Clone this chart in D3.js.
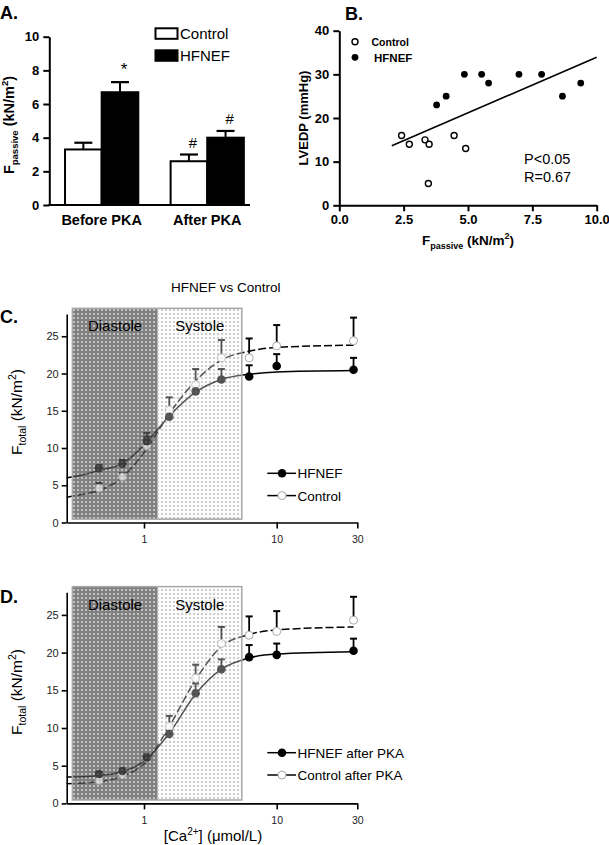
<!DOCTYPE html>
<html><head><meta charset="utf-8">
<script src="https://cdn.jsdelivr.net/npm/d3@7"></script>
<style>
html,body{margin:0;padding:0;background:#fff;}
svg{display:block;font-family:"Liberation Sans",Arial,Helvetica,sans-serif;}
</style></head><body>
<svg id="chart" width="609" height="845"></svg>
<script>
// ---------- Panel A data ----------
const groupsA = ["Before PKA", "After PKA"];
const seriesA = ["Control", "HFNEF"];
const controlA = [3.3, 2.6];
const controlAErr = [0.4, 0.4];
const hfnefA = [6.7, 4.0];
const hfnefAErr = [0.6, 0.4];
const marksA = [
  {g: "Before PKA", s: "HFNEF", t: "*"},
  {g: "After PKA", s: "Control", t: "#"},
  {g: "After PKA", s: "HFNEF", t: "#"}
];
const ticksA = [0, 2, 4, 6, 8, 10];

// ---------- Panel B data ----------
const controlBx = [2.42, 2.72, 3.33, 3.49, 4.46, 4.91, 3.46];
const controlBy = [16, 14, 15, 14, 16, 13, 5];
const hfnefBx = [3.78, 4.15, 4.86, 5.53, 5.8, 6.98, 7.86, 8.67, 9.38];
const hfnefBy = [23, 25, 30, 30, 28, 30, 30, 25, 28];
const fitBx = [2.04, 10.0];
const fitBy = [13.65, 33.9];
const ticksBx = [0, 2.5, 5, 7.5, 10];
const ticksBy = [0, 10, 20, 30, 40];
const statsB = ["P<0.05", "R=0.67"];

// ---------- Panels C & D data ----------
const caConc = [0.46, 0.69, 1.05, 1.55, 2.45, 3.83, 6.2, 10, 28.5];
const hfnefC = [7.3, 7.9, 10.9, 14.2, 17.6, 19.2, 19.6, 21.0, 20.5];
const hfnefCErr = [0.4, 0.5, 1.1, 0.8, 0.9, 1.4, 1.5, 1.6, 1.6];
const controlC = [4.6, 6.1, 10.3, 15.1, 18.5, 22.1, 22.1, 23.7, 24.4];
const controlCErr = [0.7, 0.5, 1.2, 1.7, 2.1, 2.4, 2.6, 2.8, 3.1];
const curveX = [0.263, 0.35, 0.46, 0.69, 1.05, 1.55, 2.45, 3.83, 6.2, 10, 28.5];
const hfnefCFit = [6.0, 6.4, 7.0, 7.9, 10.8, 14.3, 17.5, 19.2, 19.9, 20.2, 20.4];
const controlCFit = [3.4, 3.8, 4.3, 6.1, 9.9, 14.6, 19.0, 21.8, 23.0, 23.5, 23.8];
const hfnefD = [3.9, 4.3, 6.1, 9.2, 14.6, 17.8, 19.4, 19.7, 20.25];
const hfnefDErr = [0.3, 0.3, 0.4, 0.5, 1.3, 1.3, 1.6, 1.5, 1.6];
const controlD = [3.0, 3.8, 6.0, 10.2, 16.6, 21.2, 22.3, 22.8, 24.3];
const controlDErr = [0.3, 0.3, 0.4, 1.4, 1.8, 2.2, 2.5, 2.7, 3.1];
const hfnefDFit = [3.5, 3.55, 3.7, 4.2, 5.9, 9.3, 14.5, 17.8, 19.3, 19.8, 20.1];
const controlDFit = [2.6, 2.7, 2.9, 3.6, 5.6, 10.2, 16.4, 20.8, 22.4, 23.0, 23.4];
const ticksCDx = [1, 10, 30];
const ticksCDy = [0, 5, 10, 15, 20, 25];
const phases = ["Diastole", "Systole"];
const phaseEdges = [0.29, 1.27, 5.46];

// =====================================================
const svg = d3.select("#chart");

// patterns for shaded regions
const defs = svg.append("defs");
const pd = defs.append("pattern").attr("id", "patDia").attr("patternUnits", "userSpaceOnUse")
  .attr("width", 4).attr("height", 4);
pd.append("rect").attr("width", 4).attr("height", 4).attr("fill", "#808080");
pd.append("rect").attr("x", 1).attr("y", 1).attr("width", 2).attr("height", 2).attr("fill", "#c2c2c2");
const ps = defs.append("pattern").attr("id", "patSys").attr("patternUnits", "userSpaceOnUse")
  .attr("width", 4).attr("height", 4);
ps.append("rect").attr("width", 4).attr("height", 4).attr("fill", "#fcfcfc");
ps.append("rect").attr("x", 1).attr("y", 1).attr("width", 2).attr("height", 2).attr("fill", "#cdcdcd");

function styleAxis(g, sw, fs, fw, col) {
  g.selectAll(".domain").attr("stroke", "#000").attr("stroke-width", sw);
  g.selectAll(".tick line").attr("stroke", "#000").attr("stroke-width", sw);
  g.selectAll(".tick text").attr("font-size", fs).attr("font-weight", fw)
    .attr("fill", col || "#000").attr("font-family", '"Liberation Sans", Arial, sans-serif');
}

// ---------------- Panel A ----------------
(function () {
  const g = svg.append("g");
  const yA = d3.scaleLinear().domain([0, 10]).range([205, 36.7]);
  const xA = d3.scaleBand().domain(groupsA).range([49.3, 259.6]).paddingInner(0.306).paddingOuter(0.149);
  const xA1 = d3.scaleBand().domain(seriesA).range([0, xA.bandwidth()]);
  const vals = {Control: controlA, HFNEF: hfnefA};
  const errs = {Control: controlAErr, HFNEF: hfnefAErr};
  const bars = [];
  groupsA.forEach((gr, i) => seriesA.forEach(s => bars.push({g: gr, s, v: vals[s][i], e: errs[s][i]})));
  const cx = d => xA(d.g) + xA1(d.s) + xA1.bandwidth() / 2;

  g.selectAll(".eb").data(bars).join("line")
    .attr("x1", cx).attr("x2", cx).attr("y1", d => yA(d.v)).attr("y2", d => yA(d.v + d.e))
    .attr("stroke", "#000").attr("stroke-width", 2);
  g.selectAll(".ec").data(bars).join("line")
    .attr("x1", d => cx(d) - 9).attr("x2", d => cx(d) + 9)
    .attr("y1", d => yA(d.v + d.e)).attr("y2", d => yA(d.v + d.e))
    .attr("stroke", "#000").attr("stroke-width", 2.2);
  g.selectAll(".bar").data(bars).join("rect")
    .attr("x", d => xA(d.g) + xA1(d.s)).attr("width", xA1.bandwidth())
    .attr("y", d => yA(d.v)).attr("height", d => yA(0) - yA(d.v))
    .attr("fill", d => d.s === "HFNEF" ? "#000" : "#fff")
    .attr("stroke", "#000").attr("stroke-width", 2);
  g.selectAll(".mk").data(marksA).join("text")
    .attr("x", d => xA(d.g) + xA1(d.s) + xA1.bandwidth() / 2 + 4)
    .attr("y", d => {
      const i = groupsA.indexOf(d.g);
      return yA(vals[d.s][i] + errs[d.s][i]) - 7;
    })
    .attr("text-anchor", "middle").attr("font-size", d => d.t === "*" ? 17 : 15)
    .text(d => d.t);

  const ay = g.append("g").attr("transform", "translate(49.3,0)")
    .call(d3.axisLeft(yA).tickValues(ticksA).tickSize(6).tickSizeOuter(0).tickPadding(4));
  styleAxis(ay, 2, 13, "bold");
  const ax = g.append("g").attr("transform", "translate(0,205)")
    .call(d3.axisBottom(xA).tickSize(0).tickPadding(10));
  ax.select(".domain").remove();
  styleAxis(ax, 2, 14.5, "bold");
  g.append("line").attr("x1", 48.3).attr("x2", 250).attr("y1", 205).attr("y2", 205)
    .attr("stroke", "#000").attr("stroke-width", 2);

  const yl = g.append("text").attr("transform", "translate(14,125) rotate(-90)")
    .attr("text-anchor", "middle").attr("font-size", 14.5).attr("font-weight", "bold");
  yl.append("tspan").text("F");
  yl.append("tspan").attr("font-size", 9.5).attr("dy", 4).text("passive");
  yl.append("tspan").attr("dy", -4).text(" (kN/m");
  yl.append("tspan").attr("font-size", 9.5).attr("dy", -6).text("2");
  yl.append("tspan").attr("dy", 6).text(")");

  seriesA.forEach((s, i) => {
    const ly = 28.3 + i * 22;
    g.append("rect").attr("x", 155.5).attr("y", ly).attr("width", 22).attr("height", 10.5)
      .attr("fill", s === "HFNEF" ? "#000" : "#fff").attr("stroke", "#000").attr("stroke-width", 2);
    g.append("text").attr("x", 180).attr("y", ly + 5.5).attr("dominant-baseline", "central")
      .attr("font-size", 15).text(s);
  });
  svg.append("text").attr("x", 0).attr("y", 19).attr("font-size", 18).attr("font-weight", "bold").text("A.");
})();

// ---------------- Panel B ----------------
(function () {
  const g = svg.append("g");
  const xB = d3.scaleLinear().domain([0, 10]).range([339.3, 596.7]);
  const yB = d3.scaleLinear().domain([0, 40]).range([205.3, 30.7]);
  const ax = g.append("g").attr("transform", "translate(0,205.3)")
    .call(d3.axisBottom(xB).tickValues(ticksBx).tickFormat(d3.format(".1f")).tickSize(6).tickSizeOuter(0).tickPadding(3));
  styleAxis(ax, 2, 13, "bold");
  const ay = g.append("g").attr("transform", "translate(339.3,0)")
    .call(d3.axisLeft(yB).tickValues(ticksBy).tickSize(6).tickSizeOuter(0).tickPadding(4));
  styleAxis(ay, 2, 13, "bold");

  g.append("line").attr("x1", xB(fitBx[0])).attr("y1", yB(fitBy[0]))
    .attr("x2", xB(fitBx[1])).attr("y2", yB(fitBy[1])).attr("stroke", "#000").attr("stroke-width", 1.6);
  g.selectAll(".pc").data(d3.zip(controlBx, controlBy)).join("circle")
    .attr("cx", d => xB(d[0])).attr("cy", d => yB(d[1])).attr("r", 3)
    .attr("fill", "#fff").attr("stroke", "#000").attr("stroke-width", 1.4);
  g.selectAll(".ph").data(d3.zip(hfnefBx, hfnefBy)).join("circle")
    .attr("cx", d => xB(d[0])).attr("cy", d => yB(d[1])).attr("r", 3.4).attr("fill", "#000");
  statsB.forEach((t, i) => g.append("text").attr("x", 524).attr("y", 158.5 + i * 18)
    .attr("dominant-baseline", "central").attr("font-size", 14.5).text(t));
  g.append("circle").attr("cx", 355).attr("cy", 41.7).attr("r", 3).attr("fill", "#fff")
    .attr("stroke", "#000").attr("stroke-width", 1.4);
  g.append("text").attr("x", 371.5).attr("y", 42).attr("dominant-baseline", "central")
    .attr("font-size", 10.5).attr("font-weight", "bold").text("Control");
  g.append("circle").attr("cx", 355).attr("cy", 57.3).attr("r", 3.4).attr("fill", "#000");
  g.append("text").attr("x", 374).attr("y", 57.8).attr("dominant-baseline", "central")
    .attr("font-size", 11.5).attr("font-weight", "bold").text("HFNEF");
  g.append("text").attr("transform", "translate(308,118) rotate(-90)").attr("text-anchor", "middle")
    .attr("font-size", 13).attr("font-weight", "bold").text("LVEDP (mmHg)");
  const xl = g.append("text").attr("x", 468).attr("y", 245).attr("text-anchor", "middle")
    .attr("font-size", 13.5).attr("font-weight", "bold");
  xl.append("tspan").text("F");
  xl.append("tspan").attr("font-size", 9).attr("dy", 4).text("passive");
  xl.append("tspan").attr("dy", -4).text(" (kN/m");
  xl.append("tspan").attr("font-size", 9).attr("dy", -6).text("2");
  xl.append("tspan").attr("dy", 6).text(")");
  svg.append("text").attr("x", 345).attr("y", 20).attr("font-size", 18).attr("font-weight", "bold").text("B.");
})();

// ---------------- Panels C & D ----------------
function panelCD(o) {
  const g = svg.append("g");
  const x = d3.scaleLog().domain([0.263, 1, 10, 30]).range([66.7, 144, 276.7, 357.3]);
  const y = d3.scaleLinear().domain([0, 28]).range([o.y0, o.y0 - 28 * o.k]);
  const line = d3.line().x(d => x(d[0])).y(d => y(d[1])).curve(d3.curveMonotoneX);

  function shade(parent, opDia, opSys) {
    phases.forEach((p, i) => {
      parent.append("rect").attr("x", x(phaseEdges[i])).attr("width", x(phaseEdges[i + 1]) - x(phaseEdges[i]))
        .attr("y", y(28.75)).attr("height", y(0.45) - y(28.75))
        .attr("fill", i === 0 ? "url(#patDia)" : "url(#patSys)")
        .attr("opacity", i === 0 ? opDia : opSys);
    });
  }
  // underlay
  shade(g.append("g"), 1, 1);

  g.append("path").datum(d3.zip(curveX, o.cFit)).attr("d", line).attr("fill", "none")
    .attr("stroke", "#000").attr("stroke-width", 1.5).attr("stroke-dasharray", "8,3");
  g.append("path").datum(d3.zip(curveX, o.hFit)).attr("d", line).attr("fill", "none")
    .attr("stroke", "#000").attr("stroke-width", 1.5);

  function errBars(m, e) {
    const eb = g.append("g").selectAll("g").data(d3.zip(caConc, m, e)).join("g");
    eb.append("line").attr("x1", d => x(d[0])).attr("x2", d => x(d[0]))
      .attr("y1", d => y(d[1])).attr("y2", d => y(d[1] + d[2])).attr("stroke", "#000").attr("stroke-width", 1.8);
    eb.append("line").attr("x1", d => x(d[0]) - 3.5).attr("x2", d => x(d[0]) + 3.5)
      .attr("y1", d => y(d[1] + d[2])).attr("y2", d => y(d[1] + d[2])).attr("stroke", "#000").attr("stroke-width", 2);
  }
  errBars(o.c, o.cErr);
  errBars(o.h, o.hErr);
  g.append("g").selectAll("circle").data(d3.zip(caConc, o.c)).join("circle")
    .attr("cx", d => x(d[0])).attr("cy", d => y(d[1])).attr("r", 4)
    .attr("fill", "#fff").attr("stroke", "#aaa").attr("stroke-width", 1);
  g.append("g").selectAll("circle").data(d3.zip(caConc, o.h)).join("circle")
    .attr("cx", d => x(d[0])).attr("cy", d => y(d[1])).attr("r", 4.3).attr("fill", "#000");

  // translucent overlay
  shade(g.append("g"), 0.45, 0.35);
  g.append("rect").attr("x", x(phaseEdges[0])).attr("width", x(phaseEdges[2]) - x(phaseEdges[0]))
    .attr("y", y(28.75)).attr("height", y(0.45) - y(28.75))
    .attr("fill", "none").attr("stroke", "#a8a8a8").attr("stroke-width", 1.5);
  phases.forEach((p, i) => {
    g.append("text").attr("x", (x(phaseEdges[i]) + x(phaseEdges[i + 1])) / 2).attr("y", y(28.75) + 23)
      .attr("text-anchor", "middle").attr("font-size", 15).attr("fill", "#000").text(p);
  });

  const ay = g.append("g").attr("transform", "translate(66.7,0)")
    .call(d3.axisLeft(y).tickValues(ticksCDy).tickSize(5).tickSizeOuter(0).tickPadding(3));
  styleAxis(ay, 1.6, 11, "normal", "#222");
  const ax = g.append("g").attr("transform", `translate(0,${o.y0})`)
    .call(d3.axisBottom(x).tickValues(ticksCDx).tickFormat(d3.format("d")).tickSize(6).tickSizeOuter(0).tickPadding(7));
  styleAxis(ax, 1.6, 10.5, "normal", "#222");

  const yl = g.append("text").attr("transform", `translate(22,${o.yLab}) rotate(-90)`)
    .attr("text-anchor", "middle").attr("font-size", 15.5);
  yl.append("tspan").text("F");
  yl.append("tspan").attr("font-size", 10.5).attr("dy", 4).text("total");
  yl.append("tspan").attr("dy", -4).text(" (kN/m");
  yl.append("tspan").attr("font-size", 10.5).attr("dy", -6).text("2");
  yl.append("tspan").attr("dy", 6).text(")");

  o.legend.forEach((t, i) => {
    const ly = o.legY + i * 22.3;
    g.append("line").attr("x1", 267.3).attr("x2", 296).attr("y1", ly).attr("y2", ly)
      .attr("stroke", "#000").attr("stroke-width", 1.5);
    if (i === 0) g.append("circle").attr("cx", 282).attr("cy", ly).attr("r", 4.3).attr("fill", "#000");
    else g.append("circle").attr("cx", 282).attr("cy", ly).attr("r", 4).attr("fill", "#fff")
      .attr("stroke", "#aaa").attr("stroke-width", 1);
    g.append("text").attr("x", 297.5).attr("y", ly + 0.5).attr("dominant-baseline", "central")
      .attr("font-size", 13.5).text(t);
  });
  svg.append("text").attr("x", 0).attr("y", o.labY).attr("font-size", 18).attr("font-weight", "bold").text(o.label);
}

svg.append("text").attr("x", 225.7).attr("y", 291.5).attr("text-anchor", "middle")
  .attr("font-size", 13.5).text("HFNEF vs Control");

panelCD({y0: 522.5, k: 7.45, h: hfnefC, hErr: hfnefCErr, c: controlC, cErr: controlCErr,
  hFit: hfnefCFit, cFit: controlCFit, yLab: 412, legY: 473.3, legend: ["HFNEF", "Control"],
  label: "C.", labY: 323});
panelCD({y0: 803.4, k: 7.54, h: hfnefD, hErr: hfnefDErr, c: controlD, cErr: controlDErr,
  hFit: hfnefDFit, cFit: controlDFit, yLab: 692, legY: 752.7, legend: ["HFNEF after PKA", "Control after PKA"],
  label: "D.", labY: 603});

const xlD = svg.append("text").attr("x", 213).attr("y", 841).attr("text-anchor", "middle").attr("font-size", 15);
xlD.append("tspan").text("[Ca");
xlD.append("tspan").attr("font-size", 10).attr("dy", -6).text("2+");
xlD.append("tspan").attr("dy", 6).text("] (μmol/L)");
</script>
</body></html>
